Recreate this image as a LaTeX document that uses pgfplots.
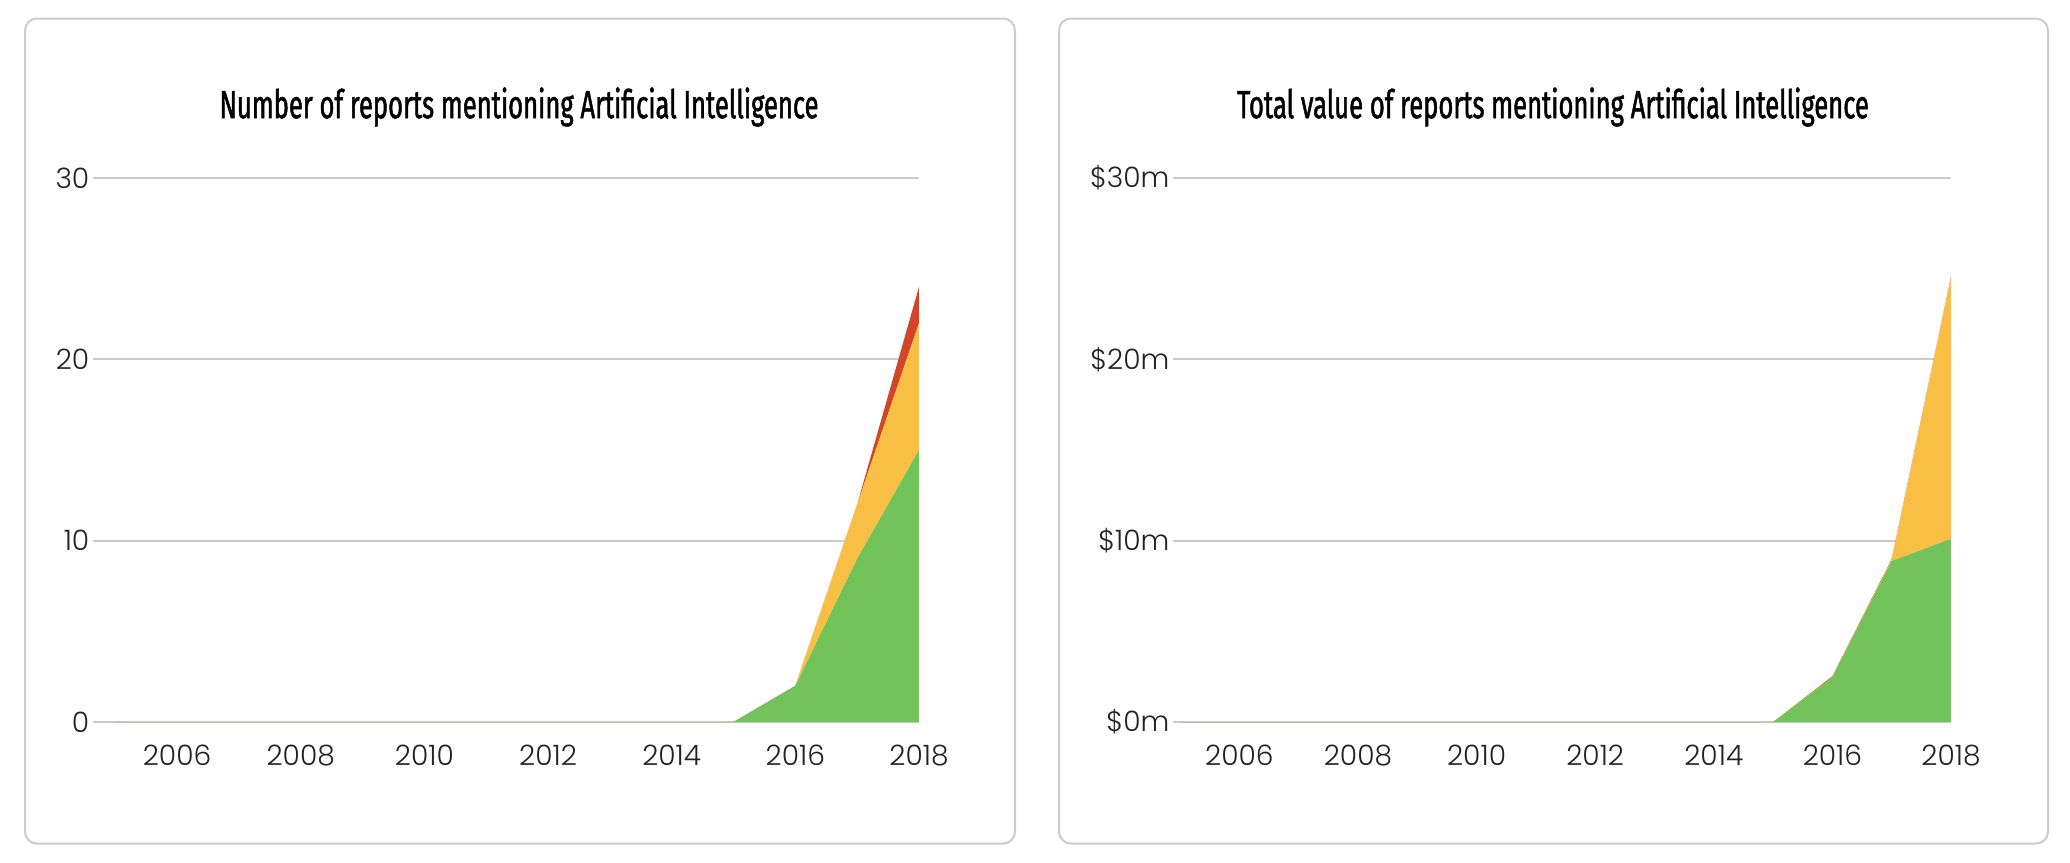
\documentclass[border=0pt]{standalone}
\usepackage{fontspec}
\setmainfont{Poppins}[UprightFont=* Light]
\newfontfamily\titlefont{Fira Sans}[FakeStretch=0.65, FakeBold=1.2]
\usepackage{pgfplots}
\pgfplotsset{compat=1.18}
\definecolor{cgreen}{HTML}{72C35A}
\definecolor{cyellow}{HTML}{F9BF45}
\definecolor{cred}{HTML}{D34528}
\definecolor{cgrid}{HTML}{CCCCCC}
\definecolor{ctext}{HTML}{222222}
\pgfplotsset{
  panel/.style={
    scale only axis,
    ymin=0, ymax=30, xmax=2018,
    stack plots=y,
    axis line style={draw=none},
    major tick length=0pt,
    ymajorgrids,
    grid style={cgrid, line width=0.18mm},
    ytick={0,10,20,30},
    xtick={2006,2008,...,2018},
    xticklabels={2006,2008,2010,2012,2014,2016,2018},
    /pgf/number format/assume math mode=true,
    tick label style={font=\fontsize{8}{9.5}\selectfont, text=ctext},
    yticklabel style={inner sep=0pt, xshift=-0.3mm},
    xticklabel style={inner sep=0pt, yshift=-2.2mm},
    clip=false,
  },
}
\begin{document}
\begin{tikzpicture}
\useasboundingbox (0,0) rectangle (207mm,86.2mm);
\draw[cgrid, line width=0.2mm, rounded corners=1.2mm, fill=white] (2.5mm,1.84mm) rectangle (101.5mm,84.35mm);
\draw[cgrid, line width=0.2mm, rounded corners=1.2mm, fill=white] (105.9mm,1.84mm) rectangle (204.8mm,84.35mm);
\node[font=\titlefont\fontsize{11.2}{13}\selectfont, text=black] at (51.9mm,75.5mm) {Number of reports mentioning Artificial Intelligence};
\node[font=\titlefont\fontsize{11.2}{13}\selectfont, text=black] at (155.3mm,75.5mm) {Total value of reports mentioning Artificial Intelligence};

\begin{axis}[panel, at={(9.3mm,14mm)}, anchor=south west,
  width=82.6mm, height=54.4mm, xmin=2004.64]
\addplot[fill=cgreen, draw=none] coordinates {
 (2005,0) (2006,0) (2007,0) (2008,0) (2009,0) (2010,0) (2011,0) (2012,0) (2013,0) (2014,0) (2015,0) (2016,2) (2017,9) (2018,15)} \closedcycle;
\addplot[fill=cyellow, draw=none] coordinates {
 (2005,0) (2006,0) (2007,0) (2008,0) (2009,0) (2010,0) (2011,0) (2012,0) (2013,0) (2014,0) (2015,0) (2016,0) (2017,3) (2018,7)} \closedcycle;
\addplot[fill=cred, draw=none] coordinates {
 (2005,0) (2006,0) (2007,0) (2008,0) (2009,0) (2010,0) (2011,0) (2012,0) (2013,0) (2014,0) (2015,0) (2016,0) (2017,0) (2018,2)} \closedcycle;
\end{axis}

\begin{axis}[panel, at={(117.3mm,14mm)}, anchor=south west,
  width=77.8mm, height=54.4mm, xmin=2004.88,
  yticklabels={\$0m,\$10m,\$20m,\$30m}]
\addplot[fill=cgreen, draw=none] coordinates {
 (2005,0) (2006,0) (2007,0) (2008,0) (2009,0) (2010,0) (2011,0) (2012,0) (2013,0) (2014,0) (2015,0) (2016,2.47) (2017,8.88) (2018,10.1)} \closedcycle;
\addplot[fill=cyellow, draw=none] coordinates {
 (2005,0) (2006,0) (2007,0) (2008,0) (2009,0) (2010,0) (2011,0) (2012,0) (2013,0) (2014,0) (2015,0) (2016,0) (2017,0.05) (2018,14.4)} \closedcycle;
\addplot[fill=cred!80!cyellow, draw=none] coordinates {
 (2005,0) (2006,0) (2007,0) (2008,0) (2009,0) (2010,0) (2011,0) (2012,0) (2013,0) (2014,0) (2015,0) (2016,0.06) (2017,0.06) (2018,0.06)} \closedcycle;
\end{axis}
\end{tikzpicture}
\end{document}
